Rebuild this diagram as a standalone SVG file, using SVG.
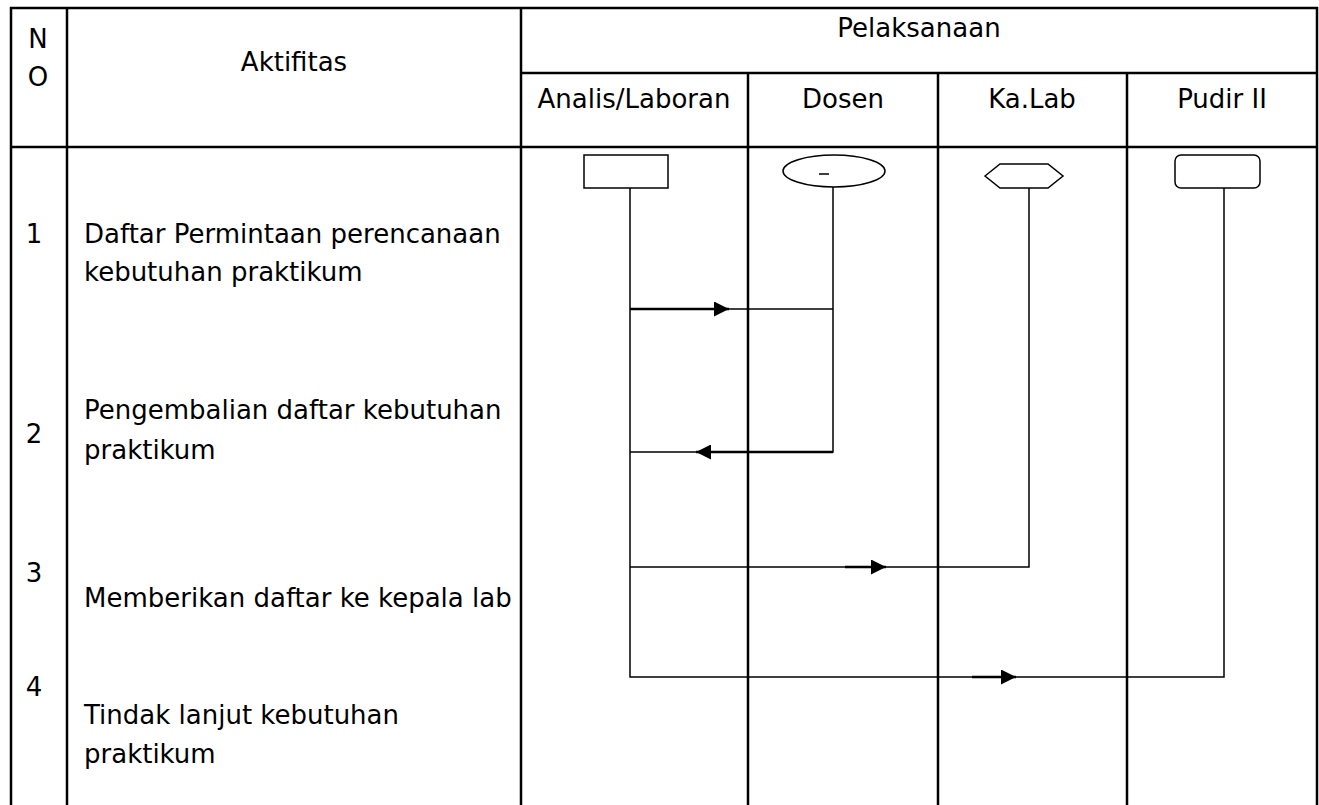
<svg xmlns="http://www.w3.org/2000/svg" width="1319" height="805" viewBox="0 0 1319 805">
<style>
.grid{stroke:#000;stroke-width:2.5;fill:none}
.t{font-family:"DejaVu Sans",sans-serif;font-size:26px;fill:#000}
.c{text-anchor:middle}
.shape{fill:#fff;stroke:#000;stroke-width:1.5}
.ln{stroke:#000;stroke-width:1.5;fill:none}
.th{stroke:#000;stroke-width:2.5;fill:none}
</style>
<defs>
<marker id="ah" viewBox="0 0 10 10" refX="10" refY="5" markerWidth="7" markerHeight="6" markerUnits="strokeWidth" orient="auto">
<path d="M0,0 L10,5 L0,10 z" fill="#000"/>
</marker>
</defs>
<rect width="1319" height="805" fill="#fff"/>
<g id="table">
<path class="grid" d="M11,805 V8 H1317 V805 M67,8 V805 M521,8 V805 M748,73 V805 M938,73 V805 M1127,73 V805 M521,73 H1317 M11,147 H1317"/>
</g>
<g id="headers">
<text class="t c" x="38" y="48">N</text>
<text class="t c" x="38" y="86">O</text>
<text class="t c" x="294" y="71">Aktifitas</text>
<text class="t c" x="919" y="37">Pelaksanaan</text>
<text class="t c" x="634" y="108">Analis/Laboran</text>
<text class="t c" x="843" y="108">Dosen</text>
<text class="t c" x="1032" y="108">Ka.Lab</text>
<text class="t c" x="1222" y="108">Pudir II</text>
</g>
<g id="rows">
<text class="t c" x="34" y="243">1</text>
<text class="t" x="84" y="243">Daftar Permintaan perencanaan</text>
<text class="t" x="84" y="281">kebutuhan praktikum</text>
<text class="t c" x="34" y="443">2</text>
<text class="t" x="84" y="419">Pengembalian daftar kebutuhan</text>
<text class="t" x="84" y="459">praktikum</text>
<text class="t c" x="34" y="582">3</text>
<text class="t" x="84" y="607">Memberikan daftar ke kepala lab</text>
<text class="t c" x="34" y="696">4</text>
<text class="t" x="84" y="724">Tindak lanjut kebutuhan</text>
<text class="t" x="84" y="763">praktikum</text>
</g>
<g id="connectors">
<path class="ln" d="M630,188 V677 H1224 V188"/>
<path class="ln" d="M833,187 V452 H630"/>
<path class="ln" d="M630,309 H833"/>
<path class="ln" d="M630,567 H1029 V187"/>
<line class="th" x1="630" y1="309" x2="729" y2="309" marker-end="url(#ah)"/>
<line class="th" x1="833" y1="452" x2="696" y2="452" marker-end="url(#ah)"/>
<line class="th" x1="845" y1="567" x2="886" y2="567" marker-end="url(#ah)"/>
<line class="th" x1="972" y1="677" x2="1016" y2="677" marker-end="url(#ah)"/>
</g>
<g id="node-analis"><rect class="shape" x="584" y="155" width="84" height="33"/></g>
<g id="node-dosen"><ellipse class="shape" cx="834" cy="171" rx="51" ry="16"/><line class="ln" x1="819" y1="174" x2="829" y2="174"/></g>
<g id="node-kalab"><polygon class="shape" points="985,176 1000,164 1048,164 1063,176 1048,188 1000,188"/></g>
<g id="node-pudir"><rect class="shape" x="1175" y="155" width="85" height="33" rx="6"/></g>
</svg>
